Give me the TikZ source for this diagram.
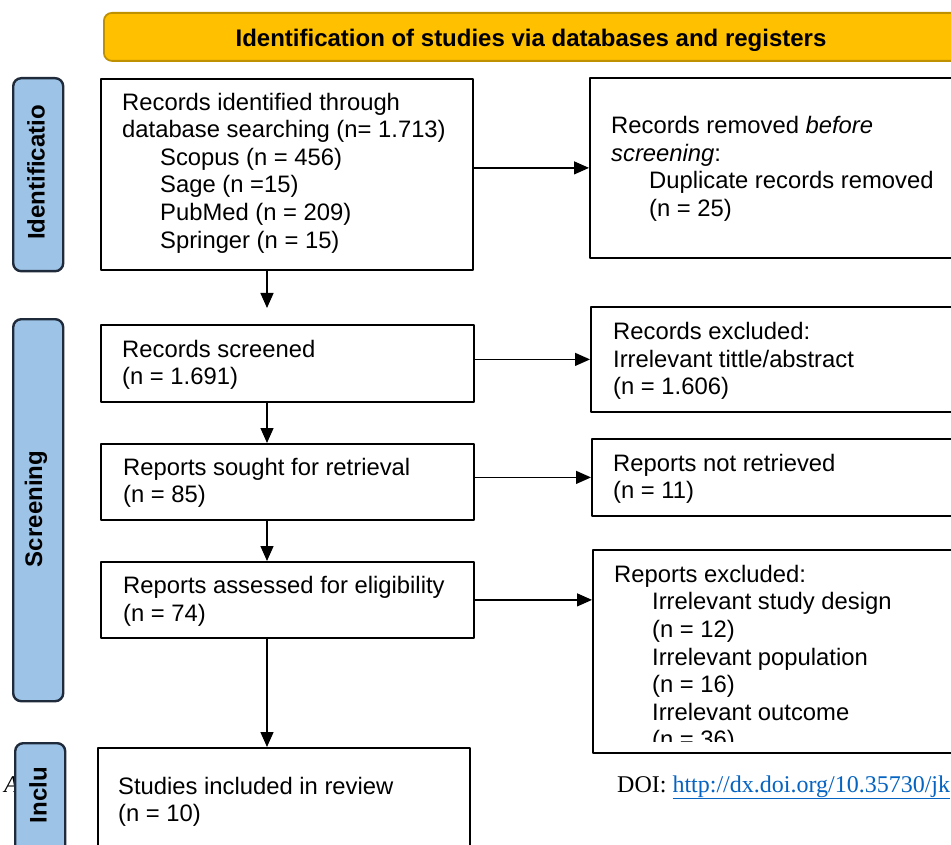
\documentclass[tikz,border=0pt]{standalone}
\usepackage{fontspec}
\setmainfont{Liberation Sans}
\newfontfamily\doifont{Liberation Serif}
\usetikzlibrary{arrows.meta}
\definecolor{headfill}{HTML}{FFC000}
\definecolor{headline}{HTML}{BF9000}
\definecolor{sidefill}{HTML}{9DC3E6}
\definecolor{sideline}{HTML}{1F2A3A}
\definecolor{linkblue}{HTML}{0563C1}
\tikzset{
  box/.style={draw, line width=1.8pt, anchor=north west, inner sep=0pt},
  txt/.style={anchor=west, align=left, inner sep=0pt, font=\fontsize{23.8}{27.6}\selectfont},
  side/.style={draw=sideline, fill=sidefill, line width=2.4pt, rounded corners=8pt, anchor=north west, inner sep=0pt, minimum width=50pt},
  sidetxt/.style={rotate=90, inner sep=0pt, font=\fontsize{24}{26}\selectfont\bfseries},
}
\begin{document}
\begin{tikzpicture}[x=1pt, y=-1pt, line join=round, >={Triangle[length=15pt,width=13pt]}]
  \def\ind{\hspace*{38pt}}
  \useasboundingbox (0,0) rectangle (951,845);
  \clip (0,0) rectangle (951,845);
  % trang giay
  \node[anchor=base west, inner sep=0pt, font=\doifont\itshape\fontsize{24}{28}\selectfont] (pa) at (4,792) {A};
  \node[anchor=base west, inner sep=0pt, font=\doifont\fontsize{24}{28}\selectfont] (doi) at (617,792)
    {DOI: \textcolor{linkblue}{\underline{http://dx.doi.org/10.35730/jk}}};
  % tieu de
  \node[draw=headline, fill=headfill, line width=1.8pt, rounded corners=8pt, anchor=north west,
    minimum width=900pt, minimum height=48pt] (head) at (103,12) {};
  \begin{scope}
    \clip (103,12) rectangle (951,50.5);
    \node[anchor=base, inner sep=0pt, font=\fontsize{24}{26}\selectfont\bfseries] (headt) at (531,47) {Identification of studies via databases and registers};
  \end{scope}
  % cot ben trai
  \node[side, minimum height=193pt] (sid) at (12,77) {};
  \node[sidetxt] (sidt) at (36,172.5) {Identificatio};
  \node[side, minimum height=382pt] (sscr) at (12,318) {};
  \node[sidetxt] (sscrt) at (36,509) {Screening};
  \node[side, minimum height=150pt] (sinc) at (14,742) {};
  \node[sidetxt] (sinct) at (38,795) {Inclu};
  % hop giua
  \node[box, minimum width=372pt, minimum height=191pt] (b1) at (100,78) {};
  \node[txt] (b1t) at (122,173) {Records identified through\\database searching (n= 1.713)\\\ind Scopus (n = 456)\\\ind Sage (n =15)\\\ind PubMed (n = 209)\\\ind Springer (n = 15)};
  \node[box, minimum width=373pt, minimum height=77pt] (b2) at (100,324) {};
  \node[txt] (b2t) at (122,365) {Records screened\\(n = 1.691)};
  \node[box, minimum width=373pt, minimum height=76pt] (b3) at (100,443) {};
  \node[txt] (b3t) at (123,483) {Reports sought for retrieval\\(n = 85)};
  \node[box, minimum width=373pt, minimum height=76pt] (b4) at (100,561) {};
  \node[txt] (b4t) at (123,601.5) {Reports assessed for eligibility\\(n = 74)};
  \node[box, minimum width=372pt, minimum height=130pt] (b5) at (97,747) {};
  \node[txt] (b5t) at (118,802) {Studies included in review\\(n = 10)};
  % hop ben phai
  \node[box, minimum width=420pt, minimum height=180pt] (r1) at (589,77) {};
  \node[txt] (r1t) at (611,169) {Records removed \textit{before}\\\textit{screening}:\\\ind Duplicate records removed\\\ind (n = 25)};
  \node[box, minimum width=420pt, minimum height=105pt] (r2) at (590,306) {};
  \node[txt] (r2t) at (613,361) {Records excluded:\\Irrelevant tittle/abstract\\(n = 1.606)};
  \node[box, minimum width=420pt, minimum height=77pt] (r3) at (591,438) {};
  \node[txt] (r3t) at (613,479) {Reports not retrieved\\(n = 11)};
  \node[box, minimum width=420pt, minimum height=203pt] (r4) at (592,549) {};
  \begin{scope}
    \clip (595,552) rectangle (951,741);
    \node[txt] (r4t) at (614,659) {Reports excluded:\\\ind Irrelevant study design\\\ind (n = 12)\\\ind Irrelevant population\\\ind (n = 16)\\\ind Irrelevant outcome\\\ind (n = 36)};
  \end{scope}
  % mui ten
  \coordinate (vx) at (267,0);
  \begin{scope}[line width=1.3pt]
    \draw[->, shorten >=16pt] (b1.south -| vx) -- (b2.north -| vx);
    \draw[->] (b2.south -| vx) -- (b3.north -| vx);
    \draw[->] (b3.south -| vx) -- (b4.north -| vx);
    \draw[->] (b4.south -| vx) -- (b5.north -| vx);
    \draw[->] (b1.east |- r1.west) -- (r1.west);
    \draw[->] (b2.east |- r2.west) -- (r2.west);
    \draw[->] (b3.east |- r3.west) -- (r3.west);
    \draw[->] (b4.east) -- (b4.east -| r4.west);
  \end{scope}
\end{tikzpicture}
\end{document}
